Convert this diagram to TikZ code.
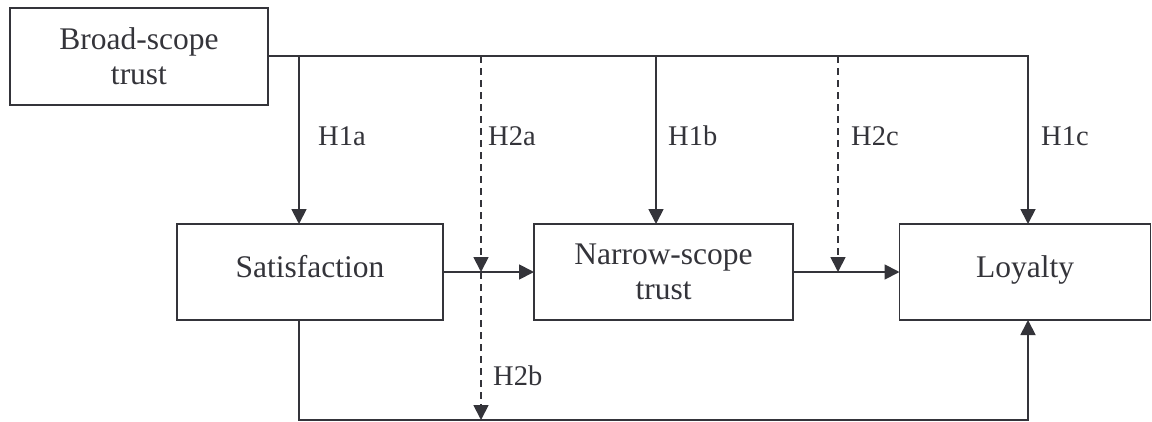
\documentclass[tikz,border=0pt]{standalone}
\usepackage{fontspec}
\setmainfont{Liberation Serif}
\usetikzlibrary{arrows.meta}
\definecolor{ink}{RGB}{52,52,58}
\tikzset{
  boxnode/.style={draw=ink, line width=1.8pt, rectangle, outer sep=0pt, inner sep=0pt,
    text=ink, align=center, font=\fontsize{31.5}{35}\selectfont},
  onerow/.style={text height=21.5pt, text depth=11.5pt},
  conn/.style={draw=ink, line width=1.8pt},
  arr/.style={conn, -{Triangle[length=15pt,width=15pt]}},
  dsh/.style={dash pattern=on 7pt off 5pt},
  hlabel/.style={text=ink, inner sep=0pt, anchor=base west, font=\fontsize{28.5}{32}\selectfont}
}
\begin{document}
\begin{tikzpicture}[x=1pt,y=-1pt]
\useasboundingbox (0,0) rectangle (1152,421);
% boxes
\node[boxnode, minimum width=258pt, minimum height=97pt] (broad) at (139,56.5) {Broad-scope\\trust};
\node[boxnode, onerow, minimum width=266pt, minimum height=96pt] (sat) at (310,272) {Satisfaction};
\node[boxnode, minimum width=259pt, minimum height=96pt] (narrow) at (663.5,272) {Narrow-scope\\trust};
\node[boxnode, onerow, minimum width=251pt, minimum height=96pt] (loy) at (1025,272) {Loyalty};
% junction coordinates
\coordinate (t1) at (299,56);
\coordinate (t2) at (481,56);
\coordinate (t3) at (656,56);
\coordinate (t4) at (838,56);
\coordinate (t5) at (1028,56);
\coordinate (m1) at (481,272);
\coordinate (m2) at (838,272);
\coordinate (b1) at (299,420);
\coordinate (b2) at (481,420);
\coordinate (b3) at (1028,420);
% top line and H1 arrows
\draw[arr] (broad.east |- t5) -- (t5) -- (loy.north -| t5);
\draw[arr] (t1) -- (sat.north -| t1);
\draw[arr] (t3) -- (narrow.north -| t3);
% horizontal arrows
\draw[arr] (sat.east |- m1) -- (narrow.west |- m1);
\draw[arr] (narrow.east |- m2) -- (loy.west |- m2);
% dashed moderators
\draw[arr, dsh] (t2) -- (m1);
\draw[arr, dsh] (m1) -- (b2);
\draw[arr, dsh] (t4) -- (m2);
% bottom path
\draw[arr] (sat.south -| b1) -- (b1) -- (b3) -- (loy.south -| b3);
% labels
\node[hlabel] (l1a) at (318,145.7) {H1a};
\node[hlabel] (l2a) at (488,145.7) {H2a};
\node[hlabel] (l1b) at (668,145.7) {H1b};
\node[hlabel] (l2c) at (851,145.7) {H2c};
\node[hlabel] (l1c) at (1041,145.7) {H1c};
\node[hlabel] (l2b) at (493,385) {H2b};
\end{tikzpicture}
\end{document}
